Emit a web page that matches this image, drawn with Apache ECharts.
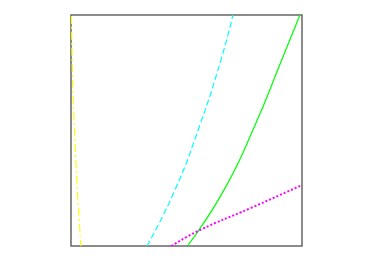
<!DOCTYPE html>
<html><head><meta charset="utf-8">
<script src="https://cdn.jsdelivr.net/npm/echarts@6/dist/echarts.min.js"></script>
<style>html,body{margin:0;padding:0;background:#fff}#c{width:374px;height:262px}</style>
</head><body><div id="c"></div>
<script>
const yellowX = [0.002, 0.005, 0.010, 0.019, 0.030, 0.043];
const yellowY = [0.996, 0.801, 0.628, 0.416, 0.199, 0.0];
const cyanX = [0.329, 0.450, 0.558, 0.649, 0.701];
const cyanY = [0.0, 0.242, 0.524, 0.805, 1.0];
const greenX = [0.504, 0.662, 0.797, 0.912, 0.991];
const greenY = [0.0, 0.242, 0.524, 0.805, 1.0];
const magentaX = [0.435, 0.558, 0.775, 1.0];
const magentaY = [0.0, 0.069, 0.163, 0.264];

const pairs = (xs, ys) => xs.map((x, i) => [x, ys[i]]);
const chart = echarts.init(document.getElementById('c'));
chart.setOption({
  animation: false,
  grid: {left: 71, top: 15, width: 231, height: 231, show: true, borderColor: '#666666', borderWidth: 1.5, backgroundColor: 'transparent'},
  xAxis: {type: 'value', min: 0, max: 1, axisLine: {show: false}, axisTick: {show: false}, axisLabel: {show: false}, splitLine: {show: false}},
  yAxis: {type: 'value', min: 0, max: 1, axisLine: {show: false}, axisTick: {show: false}, axisLabel: {show: false}, splitLine: {show: false}},
  series: [
    {type: 'line', data: pairs(yellowX, yellowY), smooth: true, symbol: 'none', clip: true,
     lineStyle: {color: '#ffff00', width: 1.2, type: [8, 3, 2, 3]}},
    {type: 'line', data: pairs(cyanX, cyanY), smooth: true, symbol: 'none', clip: true,
     lineStyle: {color: '#00ffff', width: 1.2, type: [6, 3]}},
    {type: 'line', data: pairs(greenX, greenY), smooth: true, symbol: 'none', clip: true,
     lineStyle: {color: '#00ff00', width: 1.2, type: 'solid'}},
    {type: 'line', data: pairs(magentaX, magentaY), smooth: true, symbol: 'none', clip: true,
     lineStyle: {color: '#ff00ff', width: 2, type: [2, 2]}}
  ]
});
</script></body></html>
